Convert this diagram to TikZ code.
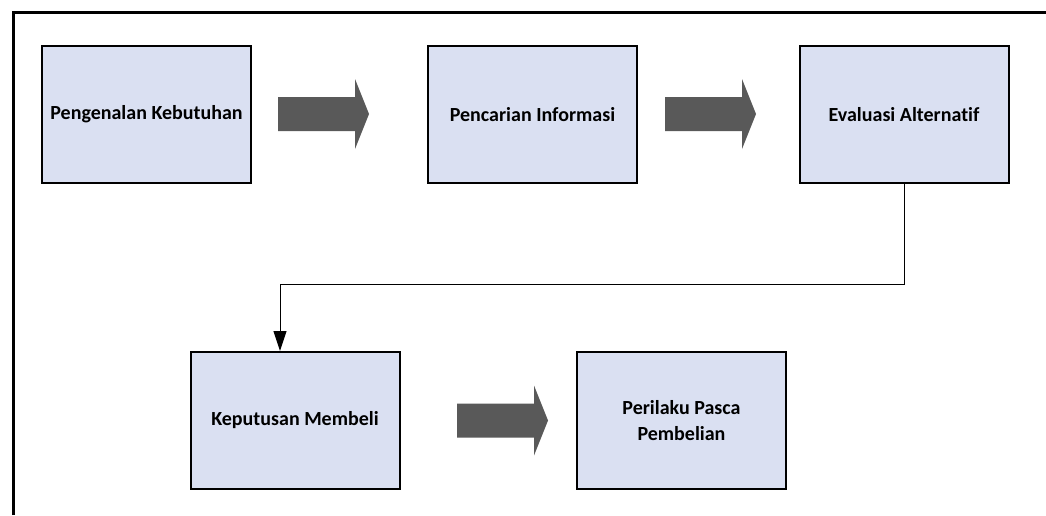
\documentclass[tikz,border=0pt]{standalone}
\usepackage{fontspec}
\setmainfont[Ligatures={NoCommon},RawFeature={-liga}]{Carlito}
\usetikzlibrary{arrows.meta}
\definecolor{boxfill}{RGB}{218,224,242}
\definecolor{arrowgray}{RGB}{89,89,89}
\begin{document}
\begin{tikzpicture}[x=1pt,y=-1pt,
  stepbox/.style={draw=black,line width=2pt,fill=boxfill,minimum width=209pt,minimum height=137pt,
    inner sep=0pt,align=center,font=\fontsize{20}{26}\selectfont\bfseries},
  conn/.style={draw=black,line width=1pt,-{Triangle[length=20pt,width=13pt]}},
  fatarr/.pic={\fill[arrowgray] (0,-17) -- (77,-17) -- (77,-35) -- (91,0) -- (77,35) -- (77,17) -- (0,17) -- cycle;}
]
\useasboundingbox (0,0) rectangle (1046,515);
\fill[white] (0,0) rectangle (1046,515);
\draw[line width=3pt] (13,515) -- (13,12) -- (1046,12);

\node[stepbox] (b1) at (146.5,114.5) {Pengenalan Kebutuhan};
\node[stepbox] (b2) at (532.5,114.5) {Pencarian Informasi};
\node[stepbox] (b3) at (904,114.5) {Evaluasi Alternatif};
\node[stepbox] (b4) at (295,420.5) {Keputusan Membeli};
\node[stepbox] (b5) at (681.5,420.5) {Perilaku Pasca\\Pembelian};

\pic (a1) at (278,114) {fatarr};
\pic (a2) at (665,114) {fatarr};
\pic (a3) at (457,420.5) {fatarr};

\coordinate (bend) at (280,284);
\draw[conn] (b3.south) |- (bend) -- (bend |- b4.north);
\end{tikzpicture}
\end{document}
